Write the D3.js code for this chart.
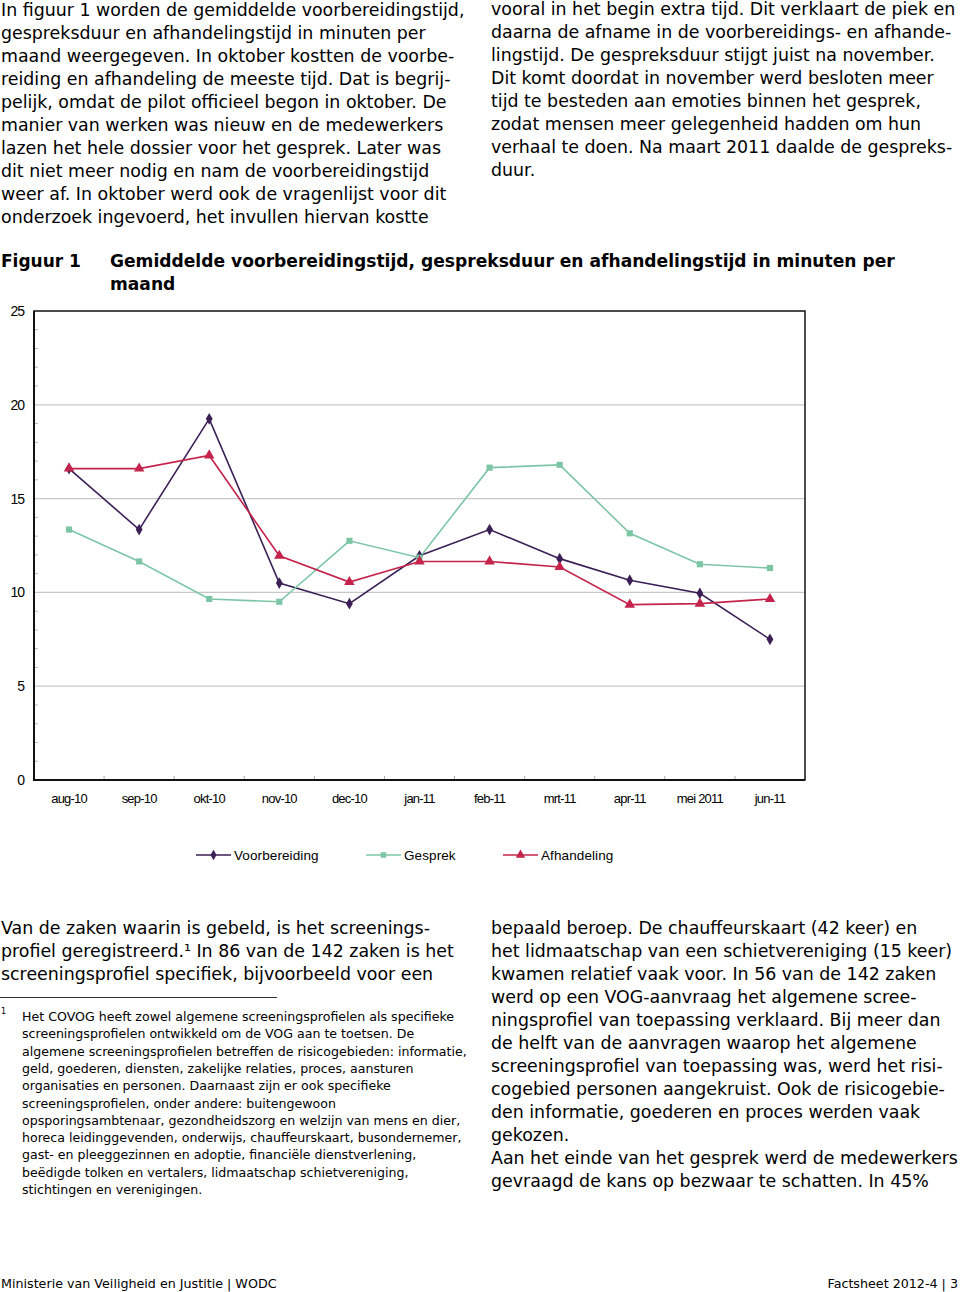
<!DOCTYPE html>
<html><head><meta charset="utf-8">
<script src="https://cdn.jsdelivr.net/npm/d3@7"></script>
<style>body{margin:0;background:#fff}svg{display:block}</style>
</head><body>
<svg id="c" width="960" height="1292"></svg>
<script>
const months = ["aug-10","sep-10","okt-10","nov-10","dec-10","jan-11","feb-11","mrt-11","apr-11","mei 2011","jun-11"];
const voorbereiding = [16.6,13.35,19.25,10.5,9.4,11.95,13.35,11.8,10.65,9.95,7.5];
const gesprek = [13.35,11.65,9.65,9.5,12.75,11.85,16.65,16.8,13.15,11.5,11.3];
const afhandeling = [16.6,16.6,17.3,11.95,10.55,11.65,11.65,11.35,9.35,9.4,9.65];
const yTicks = [0,5,10,15,20,25];
const seriesNames = ["Voorbereiding","Gesprek","Afhandeling"];

const leftTop = ["In figuur 1 worden de gemiddelde voorbereidingstijd,","gespreksduur en afhandelingstijd in minuten per","maand weergegeven. In oktober kostten de voorbe-","reiding en afhandeling de meeste tijd. Dat is begrij-","pelijk, omdat de pilot officieel begon in oktober. De","manier van werken was nieuw en de medewerkers","lazen het hele dossier voor het gesprek. Later was","dit niet meer nodig en nam de voorbereidingstijd","weer af. In oktober werd ook de vragenlijst voor dit","onderzoek ingevoerd, het invullen hiervan kostte"];
const rightTop = ["vooral in het begin extra tijd. Dit verklaart de piek en","daarna de afname in de voorbereidings- en afhande-","lingstijd. De gespreksduur stijgt juist na november.","Dit komt doordat in november werd besloten meer","tijd te besteden aan emoties binnen het gesprek,","zodat mensen meer gelegenheid hadden om hun","verhaal te doen. Na maart 2011 daalde de gespreks-","duur."];
const leftBottom = ["Van de zaken waarin is gebeld, is het screenings-","profiel geregistreerd.¹ In 86 van de 142 zaken is het","screeningsprofiel specifiek, bijvoorbeeld voor een"];
const footnote = ["Het COVOG heeft zowel algemene screeningsprofielen als specifieke","screeningsprofielen ontwikkeld om de VOG aan te toetsen. De","algemene screeningsprofielen betreffen de risicogebieden: informatie,","geld, goederen, diensten, zakelijke relaties, proces, aansturen","organisaties en personen. Daarnaast zijn er ook specifieke","screeningsprofielen, onder andere: buitengewoon","opsporingsambtenaar, gezondheidszorg en welzijn van mens en dier,","horeca leidinggevenden, onderwijs, chauffeurskaart, busondernemer,","gast- en pleeggezinnen en adoptie, financiële dienstverlening,","beëdigde tolken en vertalers, lidmaatschap schietvereniging,","stichtingen en verenigingen."];
const rightBottom = ["bepaald beroep. De chauffeurskaart (42 keer) en","het lidmaatschap van een schietvereniging (15 keer)","kwamen relatief vaak voor. In 56 van de 142 zaken","werd op een VOG-aanvraag het algemene scree-","ningsprofiel van toepassing verklaard. Bij meer dan","de helft van de aanvragen waarop het algemene","screeningsprofiel van toepassing was, werd het risi-","cogebied personen aangekruist. Ook de risicogebie-","den informatie, goederen en proces werden vaak","gekozen.","Aan het einde van het gesprek werd de medewerkers","gevraagd de kans op bezwaar te schatten. In 45%"];

const svg = d3.select("#c");
const bodyFont = "'DejaVu Sans', Verdana, sans-serif";
function para(lines, x, y0, lh, size, fill){
  svg.append("g").selectAll("text").data(lines).join("text")
    .attr("x", x).attr("y", (d,i)=>y0+i*lh)
    .attr("font-family", bodyFont).attr("font-size", size).attr("fill", fill||"#000")
    .text(d=>d);
}
para(leftTop, 1, 16, 23, 17.4);
para(rightTop, 491, 15, 23, 17.4);
para(leftBottom, 1, 934, 23, 17.4);
para(rightBottom, 491, 934, 23, 17.4);
para(footnote, 22, 1021, 17.3, 12.6);
svg.append("text").attr("x",1).attr("y",1014).attr("font-family",bodyFont).attr("font-size",8).text("1");
svg.append("line").attr("x1",0).attr("x2",277).attr("y1",997.5).attr("y2",997.5).attr("stroke","#333").attr("stroke-width",1);

// title
const titleFont = "'DejaVu Sans', sans-serif";
svg.append("text").attr("x",1).attr("y",267).attr("font-family",titleFont).attr("font-weight","bold").attr("font-size",17).attr("fill","#000").text("Figuur 1");
svg.append("text").attr("x",110).attr("y",267).attr("font-family",titleFont).attr("font-weight","bold").attr("font-size",17.1).attr("fill","#000").text("Gemiddelde voorbereidingstijd, gespreksduur en afhandelingstijd in minuten per");
svg.append("text").attr("x",110).attr("y",290).attr("font-family",titleFont).attr("font-weight","bold").attr("font-size",17.1).attr("fill","#000").text("maand");

// footer
svg.append("text").attr("x",1).attr("y",1288).attr("font-family",titleFont).attr("font-size",12.7).attr("fill","#000").text("Ministerie van Veiligheid en Justitie | WODC");
svg.append("text").attr("x",958).attr("y",1288).attr("text-anchor","end").attr("font-family",titleFont).attr("font-size",12.7).attr("fill","#000").text("Factsheet 2012-4 | 3");

// chart
const L=34, R=805, T=311, B=780;
const x = d3.scaleBand().domain(months).range([L,R]);
const y = d3.scaleLinear().domain([0,25]).range([B,T]);
const cx = m => x(m)+x.bandwidth()/2;
const g = svg.append("g");
const chartFont = "'Liberation Sans', Arial, sans-serif";

g.selectAll("line.grid").data(yTicks.filter(t=>t>0&&t<25)).join("line")
  .attr("x1",L).attr("x2",R).attr("y1",d=>y(d)).attr("y2",d=>y(d))
  .attr("stroke","#c8c8c8").attr("stroke-width",1.2);
// minor ticks
g.selectAll("line.minor").data(d3.range(1,25).filter(v=>v%5)).join("line")
  .attr("x1",L).attr("x2",L+4).attr("y1",d=>y(d)).attr("y2",d=>y(d))
  .attr("stroke","#bbb").attr("stroke-width",1);
// x ticks at boundaries
g.selectAll("line.xt").data(months.slice(1)).join("line")
  .attr("x1",d=>x(d)).attr("x2",d=>x(d)).attr("y1",B).attr("y2",B-4)
  .attr("stroke","#aaa").attr("stroke-width",1);
// frame
g.append("rect").attr("x",L).attr("y",T).attr("width",R-L).attr("height",B-T)
  .attr("fill","none").attr("stroke","#111").attr("stroke-width",1.5);
g.append("line").attr("x1",L).attr("x2",L).attr("y1",T).attr("y2",B+1).attr("stroke","#111").attr("stroke-width",2);
g.append("line").attr("x1",L-1).attr("x2",R).attr("y1",B).attr("y2",B).attr("stroke","#111").attr("stroke-width",2);

// axis labels
const yAxis = d3.axisLeft(y).tickValues(yTicks).tickSize(0).tickPadding(10);
const ya = g.append("g").attr("transform",`translate(${L},0)`).call(yAxis);
ya.select(".domain").remove();
ya.selectAll("text").attr("font-family",chartFont).attr("font-size",14).attr("letter-spacing",-1).attr("fill","#000");
const xAxis = d3.axisBottom(x).tickSize(0).tickPadding(14);
const xa = g.append("g").attr("transform",`translate(0,${B})`).call(xAxis);
xa.select(".domain").remove();
xa.selectAll("text").attr("font-family",chartFont).attr("font-size",13).attr("letter-spacing",-0.8).attr("fill","#000");

const colors = ["#3b1f55","#7cc6a6","#c4244b"];
const data = [voorbereiding, gesprek, afhandeling];
const shapes = [d3.symbolDiamond, d3.symbolSquare, d3.symbolTriangle];
const sizes = [40, 38, 48];
const line = d3.line().x((d,i)=>cx(months[i])).y(d=>y(d));
data.forEach((vals,k)=>{
  g.append("path").datum(vals).attr("d",line).attr("fill","none").attr("stroke",colors[k]).attr("stroke-width",1.6);
});
data.forEach((vals,k)=>{
  g.selectAll(null).data(vals).join("path")
    .attr("transform",(d,i)=>`translate(${cx(months[i])},${y(d)})`)
    .attr("d",d3.symbol(shapes[k],sizes[k])).attr("fill",colors[k]);
});

// legend
const legX = [196, 366, 503];
seriesNames.forEach((n,k)=>{
  const lg = svg.append("g").attr("transform",`translate(${legX[k]},855)`);
  lg.append("line").attr("x1",0).attr("x2",35).attr("stroke",colors[k]).attr("stroke-width",1.6);
  lg.append("path").attr("transform","translate(17.5,0)").attr("d",d3.symbol(shapes[k],sizes[k]*0.8)).attr("fill",colors[k]);
  lg.append("text").attr("x",38).attr("y",5).attr("font-family",chartFont).attr("font-size",13.5).attr("letter-spacing",0.1).attr("fill","#000").text(n);
});
</script>
</body></html>
